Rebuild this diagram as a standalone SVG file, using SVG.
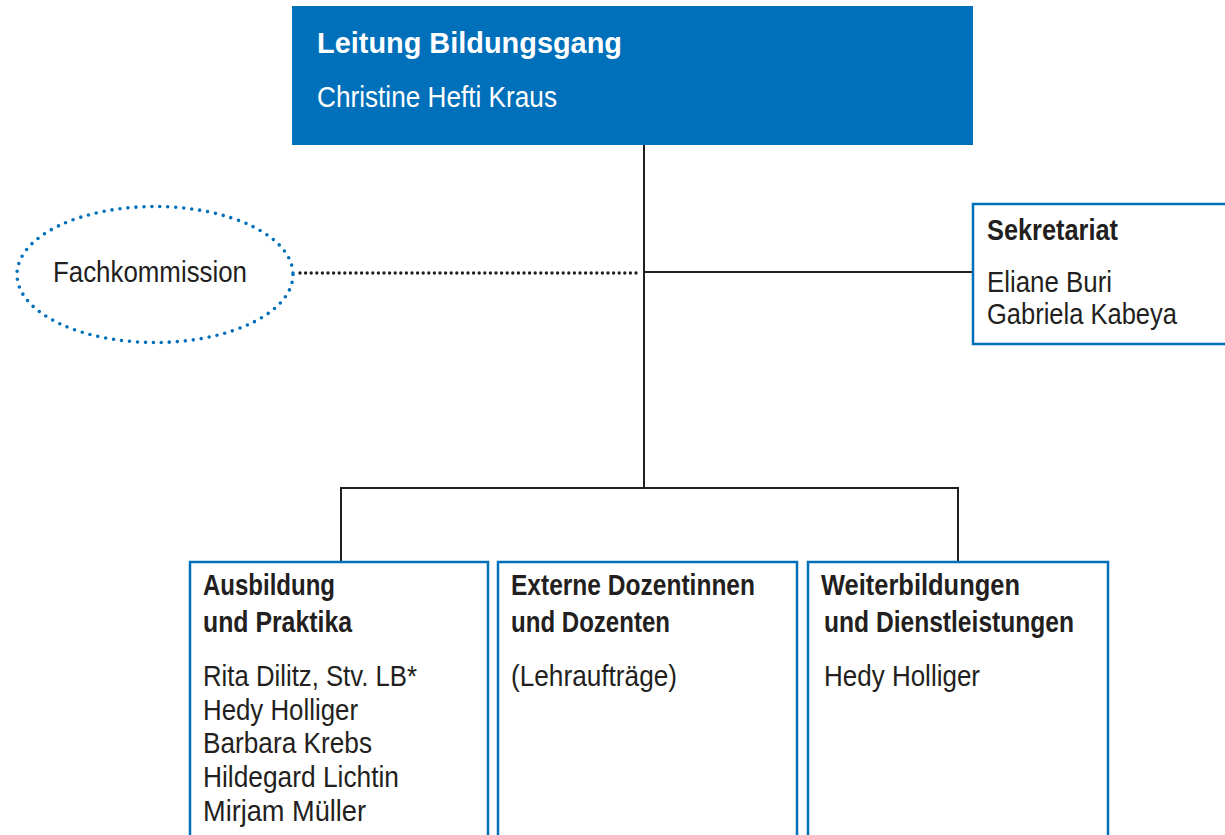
<svg xmlns="http://www.w3.org/2000/svg" width="1225" height="835" viewBox="0 0 1225 835">
<style>
.t{font-family:"Liberation Sans",Arial,sans-serif;fill:#231f20;font-size:29px}
.b{font-weight:bold}
.w{fill:#ffffff}
.box{fill:#ffffff;stroke:#0070ba;stroke-width:2.5}
.ln{stroke:#231f20;stroke-width:2;fill:none}
</style>
<rect width="1225" height="835" fill="#ffffff"/>
<g id="connectors">
<line class="ln" x1="644" y1="145" x2="644" y2="488"/>
<line class="ln" x1="644" y1="272" x2="973" y2="272"/>
<line class="ln" x1="341" y1="488" x2="958" y2="488"/>
<line class="ln" x1="341" y1="487" x2="341" y2="562"/>
<line class="ln" x1="958" y1="487" x2="958" y2="562"/>
<line x1="300" y1="273" x2="638" y2="273" stroke="#231f20" stroke-width="3.4" stroke-linecap="round" stroke-dasharray="0 5.6"/>
</g>
<g id="leitung">
<rect x="292" y="6" width="681" height="139" fill="#0070ba"/>
<text class="t b w" x="317" y="53" font-size="35" textLength="305" lengthAdjust="spacingAndGlyphs">Leitung Bildungsgang</text>
<text class="t w" x="317" y="107" font-size="29" textLength="240" lengthAdjust="spacingAndGlyphs">Christine Hefti Kraus</text>
</g>
<g id="fachkommission">
<ellipse cx="155" cy="274.5" rx="138" ry="68" fill="none" stroke="#0070ba" stroke-width="3.6" stroke-linecap="round" stroke-dasharray="0 8"/>
<text class="t" x="53" y="282" textLength="194" lengthAdjust="spacingAndGlyphs">Fachkommission</text>
</g>
<g id="sekretariat">
<rect class="box" x="973" y="204" width="260" height="140"/>
<text class="t b" x="987" y="240" textLength="131" lengthAdjust="spacingAndGlyphs">Sekretariat</text>
<text class="t" x="987" y="292" textLength="125" lengthAdjust="spacingAndGlyphs">Eliane Buri</text>
<text class="t" x="987" y="324" textLength="190" lengthAdjust="spacingAndGlyphs">Gabriela Kabeya</text>
</g>
<g id="ausbildung">
<rect class="box" x="190" y="562" width="298" height="290"/>
<text class="t b" x="203" y="595" textLength="132" lengthAdjust="spacingAndGlyphs">Ausbildung</text>
<text class="t b" x="203" y="632" textLength="149" lengthAdjust="spacingAndGlyphs">und Praktika</text>
<text class="t" x="203" y="686" textLength="214" lengthAdjust="spacingAndGlyphs">Rita Dilitz, Stv. LB*</text>
<text class="t" x="203" y="720" textLength="155" lengthAdjust="spacingAndGlyphs">Hedy Holliger</text>
<text class="t" x="203" y="753" textLength="169" lengthAdjust="spacingAndGlyphs">Barbara Krebs</text>
<text class="t" x="203" y="787" textLength="196" lengthAdjust="spacingAndGlyphs">Hildegard Lichtin</text>
<text class="t" x="203" y="821" textLength="163" lengthAdjust="spacingAndGlyphs">Mirjam Müller</text>
</g>
<g id="externe">
<rect class="box" x="498" y="562" width="299" height="290"/>
<text class="t b" x="511" y="595" textLength="244" lengthAdjust="spacingAndGlyphs">Externe Dozentinnen</text>
<text class="t b" x="511" y="632" textLength="159" lengthAdjust="spacingAndGlyphs">und Dozenten</text>
<text class="t" x="511" y="686" textLength="166" lengthAdjust="spacingAndGlyphs">(Lehraufträge)</text>
</g>
<g id="weiterbildungen">
<rect class="box" x="808" y="562" width="300" height="290"/>
<text class="t b" x="821" y="595" textLength="199" lengthAdjust="spacingAndGlyphs">Weiterbildungen</text>
<text class="t b" x="824" y="632" textLength="250" lengthAdjust="spacingAndGlyphs">und Dienstleistungen</text>
<text class="t" x="824" y="686" textLength="156" lengthAdjust="spacingAndGlyphs">Hedy Holliger</text>
</g>
</svg>
